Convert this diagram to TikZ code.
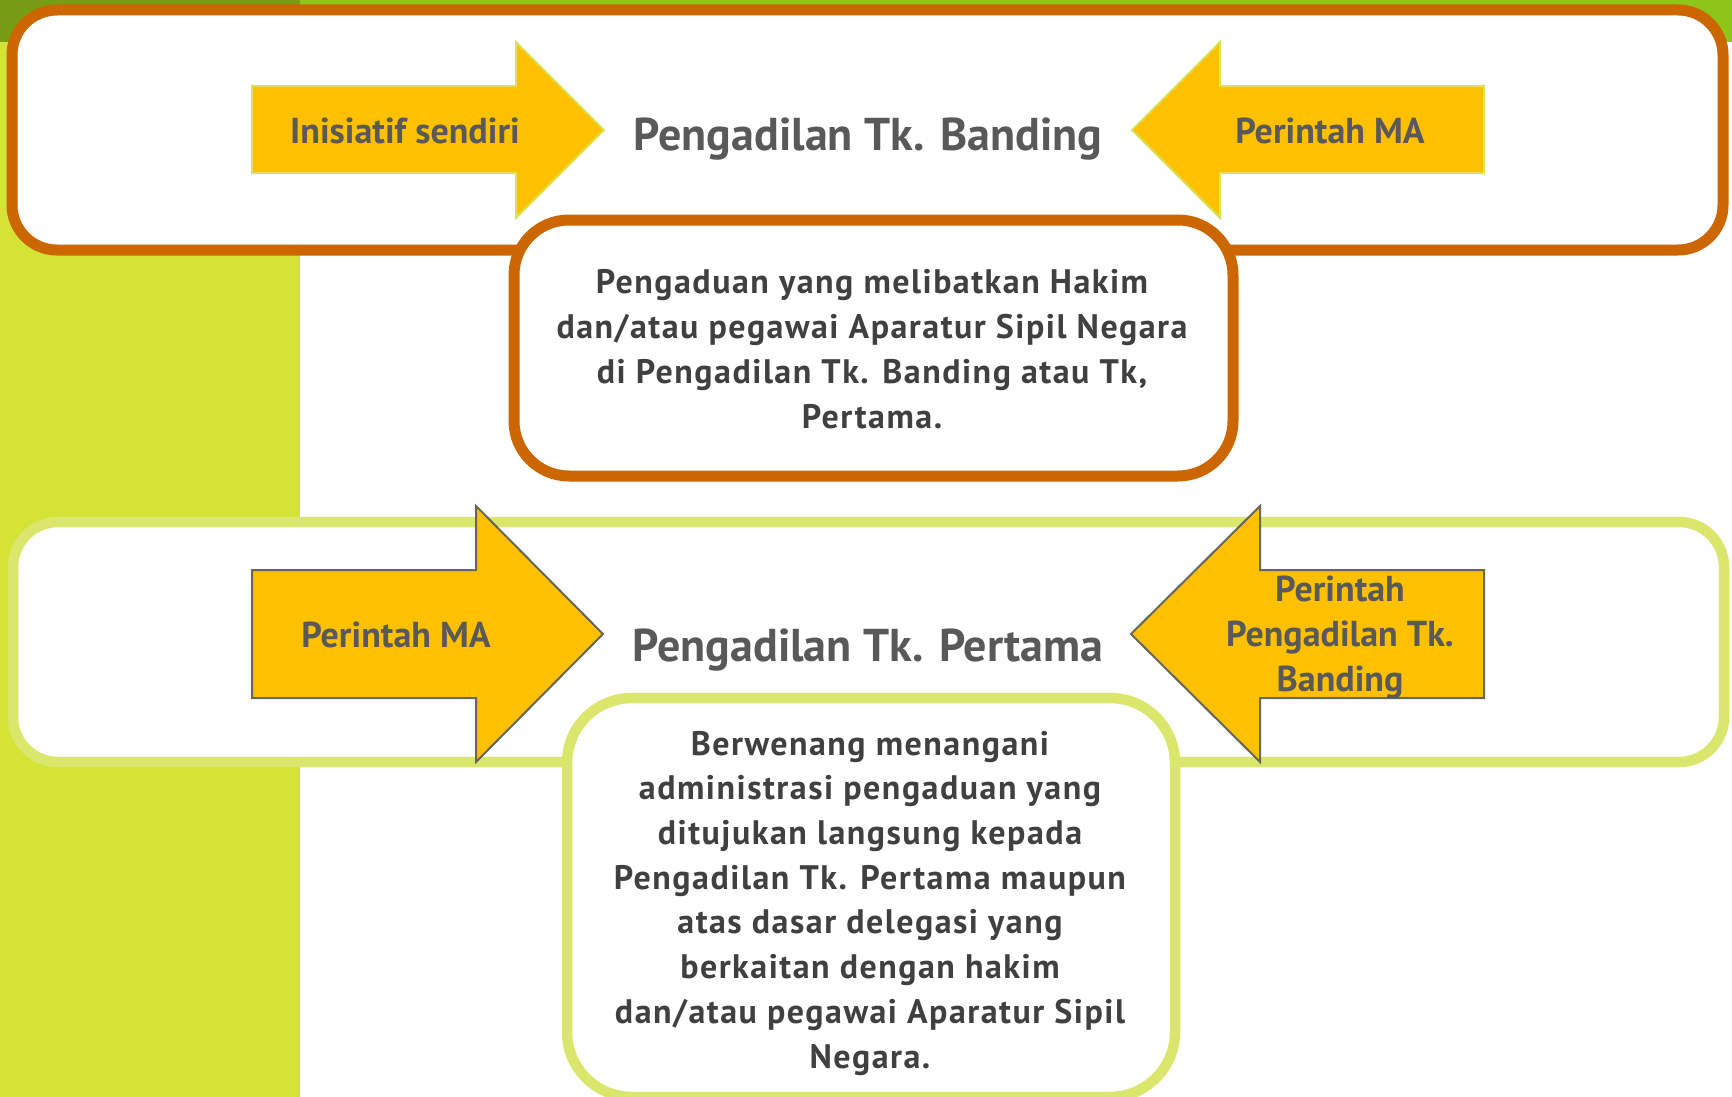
\documentclass[tikz,border=0pt]{standalone}
\usepackage{fontspec}
\setmainfont{PT Sans}
\newfontfamily\boxfont{PT Sans}[LetterSpace=4.4]
\definecolor{bandgreen}{RGB}{141,198,24}
\definecolor{darkblock}{RGB}{118,157,20}
\definecolor{stripgreen}{RGB}{213,227,55}
\definecolor{orangeline}{RGB}{204,102,0}
\definecolor{limeline}{RGB}{219,231,108}
\definecolor{arrowfill}{RGB}{255,192,0}
\definecolor{arrowedgeA}{RGB}{215,228,90}
\definecolor{arrowedgeB}{RGB}{100,104,90}
\definecolor{graytext}{RGB}{89,89,89}
\definecolor{darktext}{RGB}{64,64,64}
\begin{document}
\begin{tikzpicture}[x=1pt,y=-1pt,
  orangebox/.style={draw=orangeline,line width=11pt,fill=white},
  limebox/.style={draw=limeline,line width=10.5pt,fill=white},
  arrowA/.style={fill=arrowfill,draw=arrowedgeA,line width=2pt,line join=miter},
  arrowB/.style={fill=arrowfill,draw=arrowedgeB,line width=2pt,line join=miter},
  titletext/.style={anchor=base,inner sep=0pt,text=graytext,font=\bfseries\fontsize{46}{55}\selectfont},
  labeltext/.style={anchor=base,inner sep=0pt,text=graytext,font=\bfseries\fontsize{36}{45}\selectfont,align=center},
  boxtext/.style={anchor=base,inner sep=0pt,text=darktext,font=\boxfont\bfseries\fontsize{34}{44.7}\selectfont,align=center}]
\useasboundingbox (0,0) rectangle (1732,1097);
\fill[white] (0,0) rectangle (1732,1097);
\fill[bandgreen] (0,0) rectangle (1732,42);
\fill[darkblock] (0,0) rectangle (300,42);
\fill[stripgreen] (0,42) rectangle (300,1097);
% top section
\draw[orangebox,rounded corners=45pt] (12,10) rectangle (1723,250);
\draw[arrowA] (252,86) -- (516,86) -- (516,42) -- (604,130) -- (516,218) -- (516,173) -- (252,173) -- cycle;
\draw[arrowA] (1484,86) -- (1220,86) -- (1220,42) -- (1132,130) -- (1220,218) -- (1220,173) -- (1484,173) -- cycle;
\node[labeltext] (ini) at (405,143) {Inisiatif sendiri};
\node[labeltext] (ma1) at (1330,143) {Perintah MA};
\node[titletext] (banding) at (868,150) {Pengadilan Tk. Banding};
\draw[orangebox,rounded corners=55pt] (514,220) rectangle (1233,476);
\node[boxtext] (desc1) at (872,428) {Pengaduan yang melibatkan Hakim\\dan/atau pegawai Aparatur Sipil Negara\\di Pengadilan Tk. Banding atau Tk,\\Pertama.};
% bottom section
\draw[limebox,rounded corners=45pt] (13,522) rectangle (1724,762);
\draw[arrowB] (252,570) -- (476,570) -- (476,506) -- (603,634) -- (476,762) -- (476,698) -- (252,698) -- cycle;
\draw[arrowB] (1484,570) -- (1260,570) -- (1260,506) -- (1131,634) -- (1260,762) -- (1260,698) -- (1484,698) -- cycle;
\node[labeltext] (ma2) at (396,647) {Perintah MA};
\node[labeltext] (ptb) at (1340,691) {Perintah\\Pengadilan Tk.\\Banding};
\node[titletext] (pertama) at (868,661) {Pengadilan Tk. Pertama};
\draw[limebox,rounded corners=65pt] (567,698) rectangle (1175,1097);
\node[boxtext] (desc2) at (870,1068) {Berwenang menangani\\administrasi pengaduan yang\\ditujukan langsung kepada\\Pengadilan Tk. Pertama maupun\\atas dasar delegasi yang\\berkaitan dengan hakim\\dan/atau pegawai Aparatur Sipil\\Negara.};
\end{tikzpicture}
\end{document}
